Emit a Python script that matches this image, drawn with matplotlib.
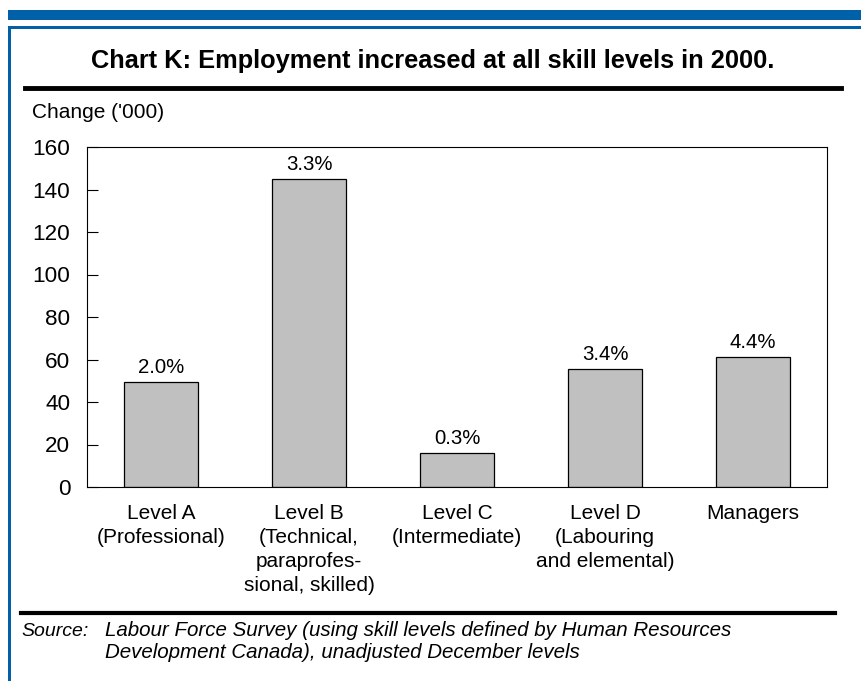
import matplotlib
matplotlib.use("Agg")
import matplotlib.pyplot as plt
from matplotlib.patches import Rectangle
from matplotlib.lines import Line2D

plt.rcParams['font.family'] = ['Liberation Sans', 'DejaVu Sans']

# employment change by skill level, 2000
categories = ['Level A\n(Professional)',
              'Level B\n(Technical,\nparaprofes-\nsional, skilled)',
              'Level C\n(Intermediate)',
              'Level D\n(Labouring\nand elemental)',
              'Managers']
change = [49.3, 144.8, 15.9, 55.5, 61.0]
pct_labels = ['2.0%', '3.3%', '0.3%', '3.4%', '4.4%']
yticks = [0, 20, 40, 60, 80, 100, 120, 140, 160]

W, H = 861, 681
BLUE = '#0061A9'
fig = plt.figure(figsize=(W / 100, H / 100), dpi=100)


def px(x, y):
    # pixel coords (from top-left) to figure fraction
    return x / W, 1 - y / H


# blue header bar and frame
fig.patches.append(Rectangle(px(8, 20), 1 - 8 / W, 10 / H, transform=fig.transFigure,
                             facecolor=BLUE, edgecolor='none'))
fig.patches.append(Rectangle(px(8, 28.5), 1 - 8 / W, 2.5 / H, transform=fig.transFigure,
                             facecolor=BLUE, edgecolor='none'))
fig.patches.append(Rectangle(px(8, H), 2.8 / W, (H - 26) / H, transform=fig.transFigure,
                             facecolor=BLUE, edgecolor='none'))

# title and rules
fig.text(*px(433, 61), 'Chart K: Employment increased at all skill levels in 2000.',
         ha='center', va='center', fontsize=18.3, fontweight='bold')
x0, y0 = px(25, 88)
x1, _ = px(841, 88)
fig.add_artist(Line2D([x0, x1], [y0, y0], transform=fig.transFigure, color='black', lw=3.5))
x0, y0 = px(21, 613)
x1, _ = px(835, 613)
fig.add_artist(Line2D([x0, x1], [y0, y0], transform=fig.transFigure, color='black', lw=3))

# bar chart
l, b = px(87, 487)
ax = fig.add_axes([l, b, 740 / W, 340 / H])
pos = list(range(len(categories)))
bars = ax.bar(pos, change, width=0.5, color='#C0C0C0', edgecolor='black', linewidth=0.9)
for rect, lab in zip(bars, pct_labels):
    ax.annotate(lab, (rect.get_x() + rect.get_width() / 2, rect.get_height()),
                xytext=(0, 4), textcoords='offset points', ha='center', va='bottom',
                fontsize=14.7)

ax.set_xlim(-0.5, len(categories) - 0.5)
ax.set_ylim(0, 160)
ax.set_yticks(yticks)
ax.set_xticks(pos)
ax.set_xticklabels(categories, fontsize=15, linespacing=1.34)
ax.tick_params(axis='y', direction='in', length=8, width=0.8, pad=12, labelsize=16.2)
ax.tick_params(axis='x', length=0, pad=12)
for s in ax.spines.values():
    s.set_linewidth(0.8)

fig.text(*px(32, 113), "Change ('000)", ha='left', va='center', fontsize=15)

# source note
fig.text(*px(21, 631), 'Source:', ha='left', va='center', fontsize=14, style='italic')
fig.text(*px(105, 631), 'Labour Force Survey (using skill levels defined by Human Resources',
         ha='left', va='center', fontsize=14.8, style='italic')
fig.text(*px(105, 652), 'Development Canada), unadjusted December levels',
         ha='left', va='center', fontsize=14.8, style='italic')

fig.savefig('out.png', dpi=100)
